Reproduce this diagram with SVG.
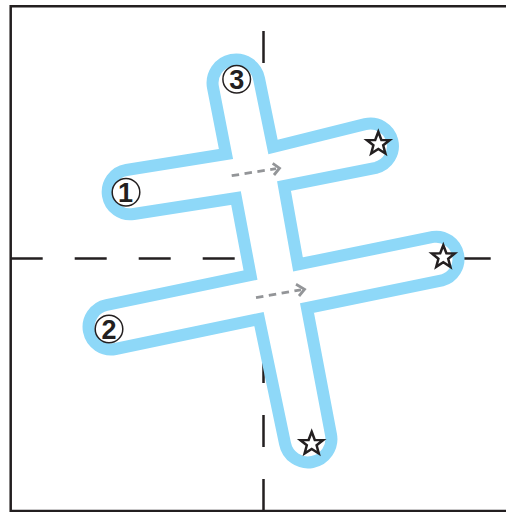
<svg xmlns="http://www.w3.org/2000/svg" width="506" height="512" viewBox="0 0 506 512">
<style>
.ax{fill:none;stroke:#231f20;stroke-width:2.5}
.dash{stroke-dasharray:32 32}
.ar{fill:none;stroke:#939598;stroke-width:2.8}
.c{fill:#fff;stroke:#231f20;stroke-width:1.5}
.t{font-family:"Liberation Sans",Arial,sans-serif;font-weight:700;font-size:27px;fill:#231f20;text-anchor:middle}
.s{fill:#fff;stroke:#231f20;stroke-width:2.5;stroke-linejoin:miter;stroke-miterlimit:10}
</style>
<defs>
<polygon id="star" points="0,-12 3.1,-3.9 11.4,-3.7 4.9,1.5 7.1,9.7 0,5.1 -7.1,9.7 -4.9,1.5 -11.4,-3.7 -3.1,-3.9"/>
</defs>
<rect width="506" height="512" fill="#fff"/>
<g id="frame">
<path class="ax" d="M506 6.2H10.7V511H506"/>
<path class="ax dash" d="M10.7 258.5H491"/>
<path class="ax dash" d="M263.5 511V31"/>
</g>
<g id="outline">
<path fill="#fff" stroke="#8ed8f8" stroke-width="12" stroke-linejoin="miter" stroke-miterlimit="8" d="M226 154L126.3 170A22.3 22.3 0 0 0 133.7 214L236 198L250.5 275L106.6 305A22.4 22.4 0 0 0 115.4 349L259 319L285 443.4A23.4 23.4 0 0 0 331 434.6L307 308L442 280.5A22.3 22.3 0 0 0 433 236.9L298 264.5L284 186L375.8 167.8A22.4 22.4 0 0 0 365.2 124.2L273 147L259 78.5A23.4 23.4 0 0 0 213 87.5Z"/>
</g>
<g id="connectors">
<path class="ar" stroke-dasharray="7.5 5.5" d="M231.7 175.7L276 168.6"/>
<path class="ar" d="M272.7 163.3L279.5 168.2L274 175"/>
<path class="ar" stroke-dasharray="7.5 5.5" d="M256 297.7L301 289.8"/>
<path class="ar" d="M296 284.3L304.5 289.3L299 296"/>
</g>
<g id="node-1"><circle class="c" cx="126" cy="192.3" r="13.8"/><text class="t" x="125.5" y="202">1</text></g>
<g id="node-2"><circle class="c" cx="109" cy="329" r="13.8"/><text class="t" x="109" y="338.5">2</text></g>
<g id="node-3"><circle class="c" cx="236.7" cy="79.3" r="13.8"/><text class="t" x="236.7" y="88.8">3</text></g>
<g id="star-a"><use class="s" href="#star" x="378.3" y="143.8"/></g>
<g id="star-b"><use class="s" href="#star" x="443.3" y="257.2"/></g>
<g id="star-c"><use class="s" href="#star" x="311.7" y="443.8"/></g>
</svg>
